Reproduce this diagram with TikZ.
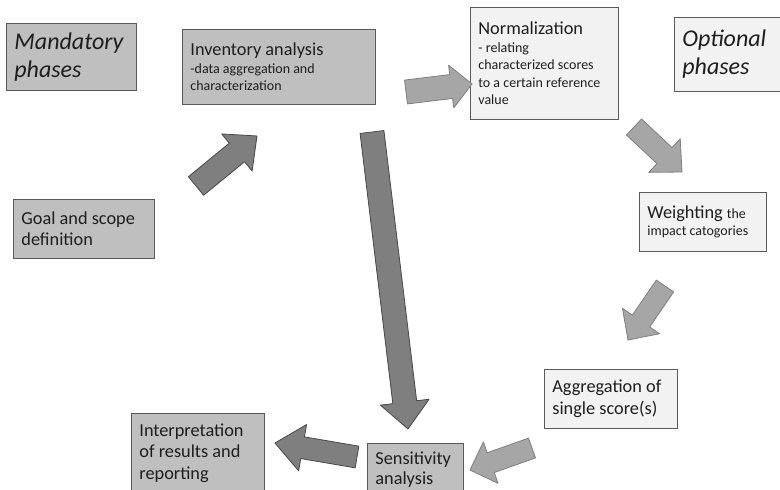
\documentclass[tikz,border=0pt]{standalone}
\usepackage{fontspec}
\setmainfont{Carlito}
\usetikzlibrary{calc,positioning}

\definecolor{boxdark}{HTML}{BFBFBF}
\definecolor{boxlight}{HTML}{F2F2F2}
\definecolor{edge}{HTML}{5A5A5A}
\definecolor{arrdark}{HTML}{7F7F7F}
\definecolor{arrlight}{HTML}{A6A6A6}
\definecolor{txt}{HTML}{1E1E1E}

% block arrow: style, from, to, shaft half width, head half width, head length
\newcommand{\fatarrow}[6]{%
	\coordinate (fh) at ($(#3)!#6!(#2)$);
	\draw [#1] ($(#2)!#4!90:(#3)$) -- ($(fh)!#4!-90:(#2)$) -- ($(fh)!#5!-90:(#2)$) -- (#3)
		-- ($(fh)!#5!90:(#2)$) -- ($(fh)!#4!90:(#2)$) -- ($(#2)!#4!-90:(#3)$) -- cycle;}

\newcommand{\titlesize}{\fontsize{18.3}{21.5}\selectfont}
\newcommand{\notesize}{\fontsize{14}{17}\selectfont}

\tikzset{
	box/.style={draw=edge, line width=.8pt, anchor=north west, align=left, inner xsep=8pt, inner ysep=9pt, text=txt, font=\titlesize,
		execute at begin node={\spaceskip=0pt\xspaceskip=0pt}},
	darkbox/.style={box, fill=boxdark},
	lightbox/.style={box, fill=boxlight},
	phase/.style={font=\fontsize{24}{28}\selectfont\itshape},
	darkarrow/.style={draw=edge!80!black, fill=arrdark, line width=.8pt, line join=round},
	lightarrow/.style={draw=arrdark, fill=arrlight, line width=.8pt, line join=round}
}

\begin{document}
\begin{tikzpicture}[x=1pt,y=-1pt]
	\clip (0,0) rectangle (780,490);
	\fill [white] (0,0) rectangle (780,490);
	\node [darkbox, phase, text width=114, minimum height=66] (mand) at (6,23) {Mandatory\\phases};
	\node [lightbox, phase, text width=114, minimum height=74] (opt) at (674,17) {Optional\\phases};
	\node [darkbox, text width=177, minimum height=75] (inv) at (182,29) {Inventory analysis\\[-4pt]{\notesize -data aggregation and}\\[-4pt]{\notesize characterization}\\[-14pt]};
	\node [lightbox, text width=132, minimum height=112] (norm) at (470,7) {Normalization\\[-4pt]{\notesize - relating}\\[-4pt]{\notesize characterized scores}\\[-4pt]{\notesize to a certain reference}\\[-4pt]{\notesize value}};
	\node [darkbox, text width=125, minimum height=59] (goal) at (13,199) {Goal and scope\\[-1pt]definition};
	\node [lightbox, text width=111, minimum height=59] (weight) at (639,192) {Weighting {\notesize the}\\[-4pt]{\notesize impact catogories}};
	\node [lightbox, text width=117, minimum height=59] (aggr) at (544,369) {Aggregation of\\single score(s)};
	\node [darkbox, text width=117, inner ysep=10pt] (interp) at (131,413) {Interpretation\\of results and\\reporting};
	\node [darkbox, text width=80, inner ysep=8pt] (sens) at (367,443) {Sensitivity\\[-1pt]analysis};
	% arrow ends
	\coordinate (a1) at (196,186);	\coordinate (b1) at (257,136);
	\coordinate (a2) at (372,132);	\coordinate (b2) at (408,429);
	\coordinate (a3) at (406,92);	\coordinate (b3) at (472,84);
	\coordinate (a4) at (634,127);	\coordinate (b4) at (682,172);
	\coordinate (a5) at (665,286);	\coordinate (b5) at (628,340);
	\coordinate (a6) at (532,448);	\coordinate (b6) at (470,470);
	\coordinate (a7) at (357,457);	\coordinate (b7) at (275,443);
	\fatarrow{darkarrow}{a1}{b1}{12pt}{24pt}{26pt}
	\fatarrow{darkarrow}{a2}{b2}{12pt}{24.5pt}{27pt}
	\fatarrow{lightarrow}{a3}{b3}{12pt}{21.5pt}{21pt}
	\fatarrow{lightarrow}{a4}{b4}{11pt}{23pt}{24pt}
	\fatarrow{lightarrow}{a5}{b5}{10.5pt}{22.5pt}{23pt}
	\fatarrow{lightarrow}{a6}{b6}{10.5pt}{22pt}{22pt}
	\fatarrow{darkarrow}{a7}{b7}{11pt}{23.5pt}{28pt}
\end{tikzpicture}
\end{document}
